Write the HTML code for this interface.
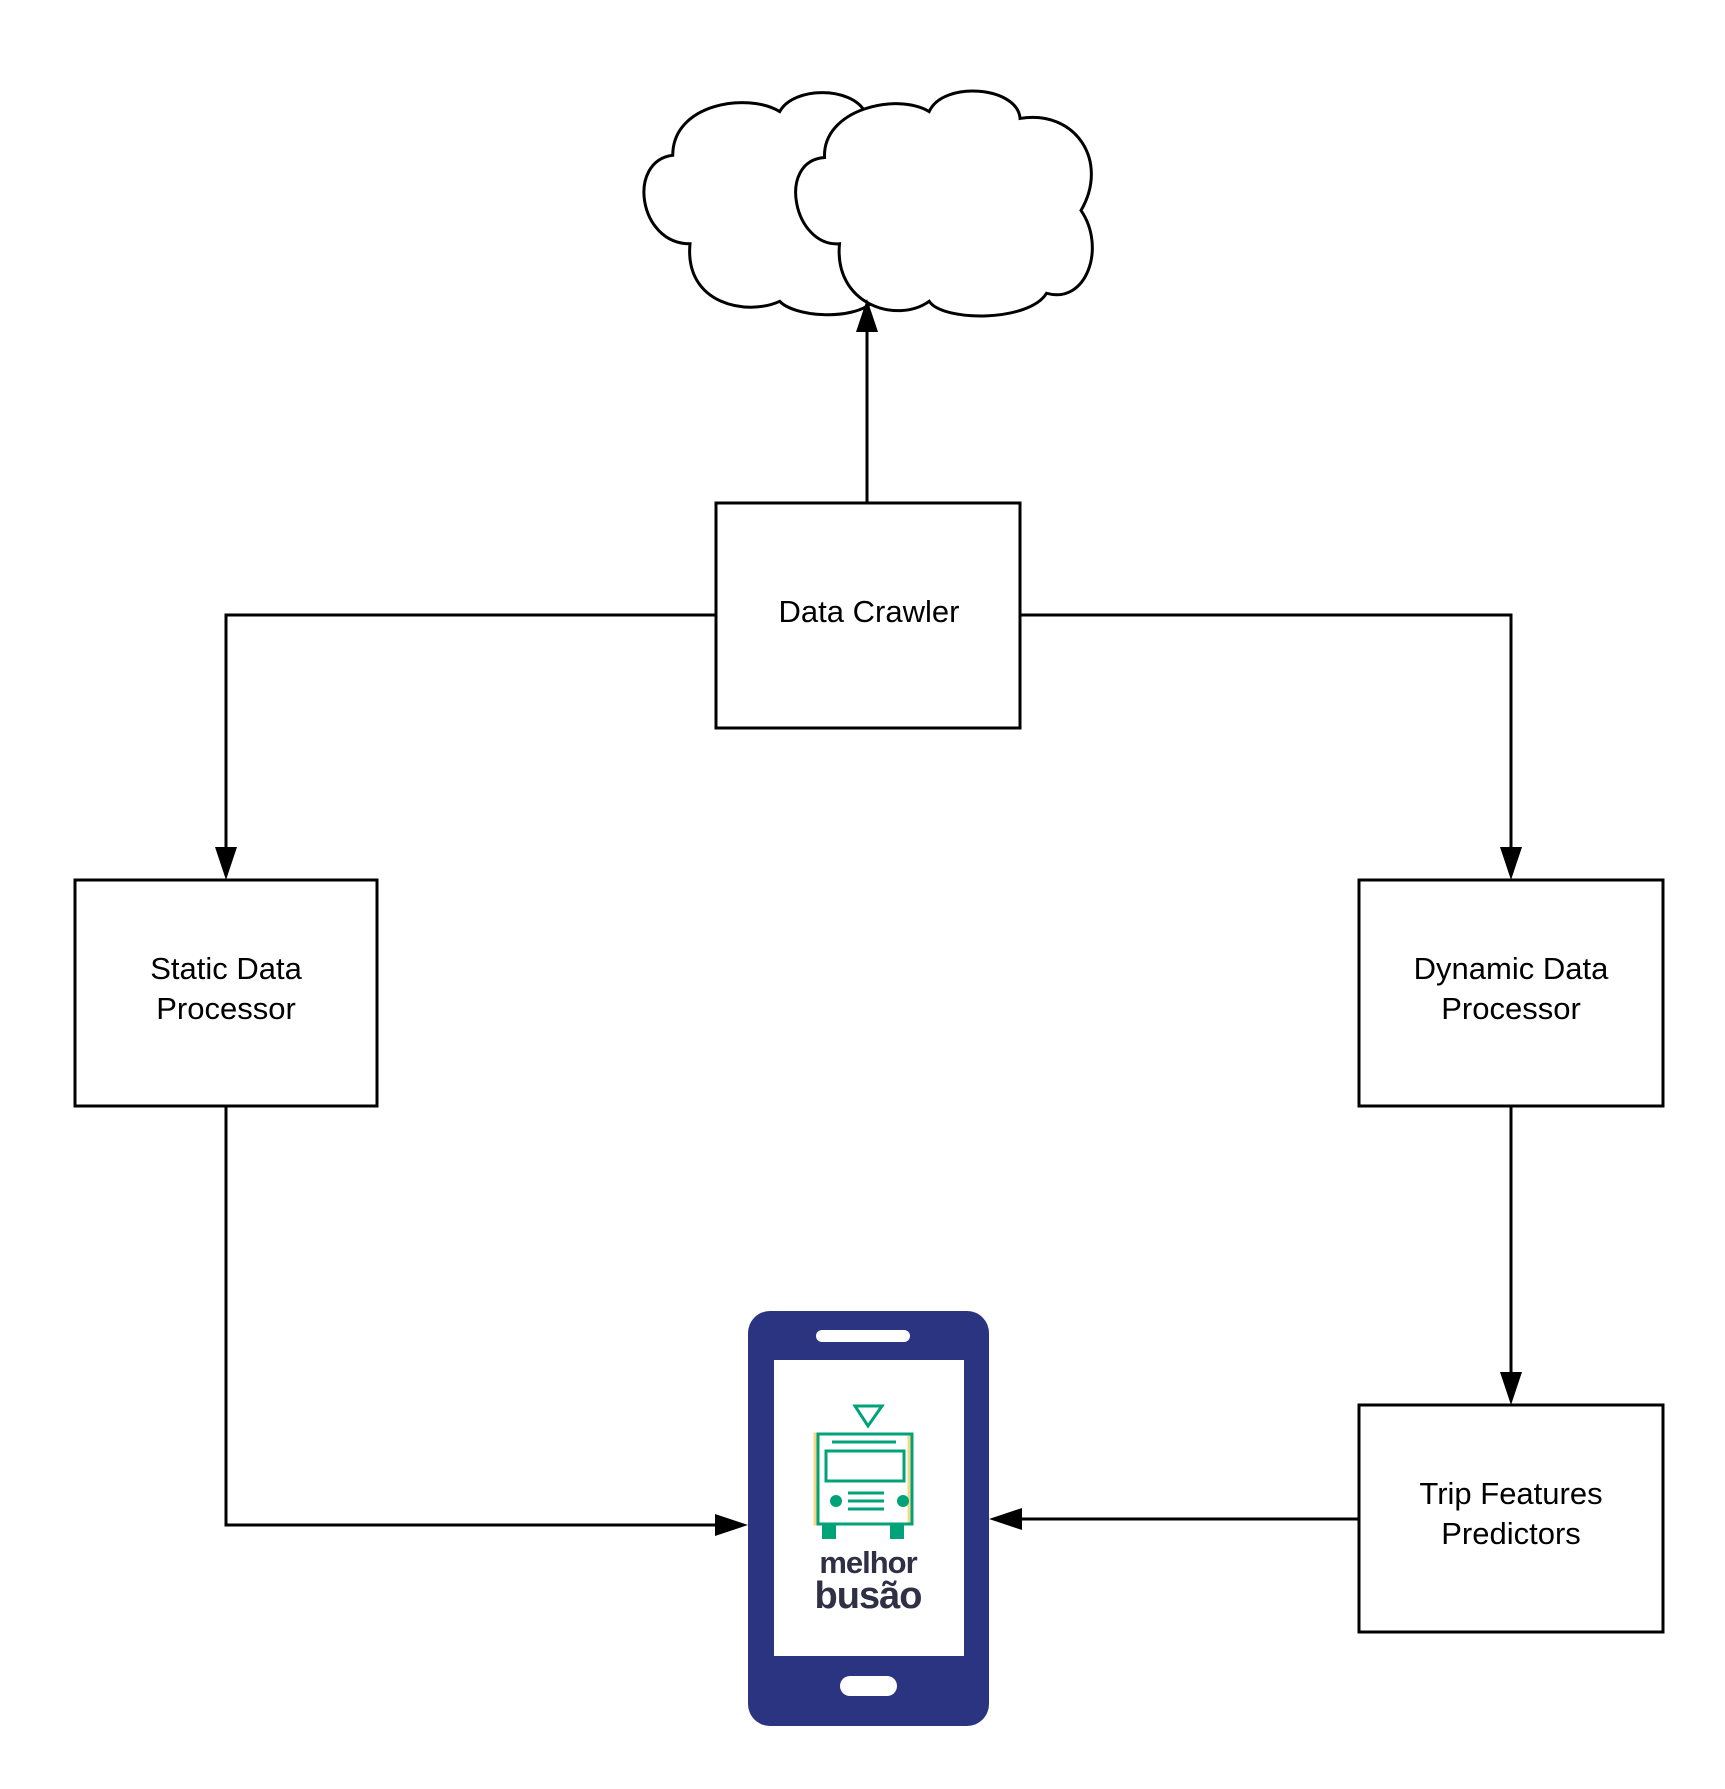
<!DOCTYPE html>
<html><head><meta charset="utf-8"><style>
html,body{margin:0;padding:0;background:#fff;}
svg{display:block;}
text{font-family:"Liberation Sans",sans-serif;}
</style></head><body>
<svg width="1725" height="1789" viewBox="0 0 1725 1789" xmlns="http://www.w3.org/2000/svg">
<!-- clouds -->
<g transform="scale(1.15)" fill="#fff" stroke="#000" stroke-width="2.6">
<path d="M585,135 C585,90 650,80 678,97 C690,75 740,75 752,97 C800,110 800,250 760,262 C740,280 690,275 678,262 C650,275 595,265 600,212 C555,212 545,140 585,135 Z"/>
<path d="M717,137 C715,95 780,80 808,97 C820,70 885,75 887,103 C935,95 965,140 940,183 C962,215 945,265 910,255 C895,280 820,280 808,262 C780,282 725,265 730,212 C690,215 675,140 717,137 Z"/>
</g>

<g stroke="#000" stroke-width="3" fill="none">
<line x1="867" y1="503" x2="867" y2="322"/>
<polyline points="716,615 226,615 226,858"/>
<polyline points="1020,615 1511,615 1511,858"/>
<polyline points="226,1106 226,1525 726,1525"/>
<line x1="1359" y1="1519" x2="1011" y2="1519"/>
<line x1="1511" y1="1106" x2="1511" y2="1383"/>
<rect x="716" y="503" width="304" height="225" fill="#fff"/>
<rect x="75" y="880" width="302" height="226" fill="#fff"/>
<rect x="1359" y="880" width="304" height="226" fill="#fff"/>
<rect x="1359" y="1405" width="304" height="227" fill="#fff"/>
</g>
<g fill="#000">
<polygon points="867,299 856,332 878,332"/>
<polygon points="226,880 215,847 237,847"/>
<polygon points="1511,880 1500,847 1522,847"/>
<polygon points="748,1525 715,1514 715,1536"/>
<polygon points="989,1519 1022,1508 1022,1530"/>
<polygon points="1511,1405 1500,1372 1522,1372"/>
</g>
<g font-size="31" text-anchor="middle" fill="#000">
<text x="869" y="622">Data Crawler</text>
<text x="226" y="979">Static Data</text>
<text x="226" y="1019">Processor</text>
<text x="1511" y="979">Dynamic Data</text>
<text x="1511" y="1019">Processor</text>
<text x="1511" y="1504">Trip Features</text>
<text x="1511" y="1544">Predictors</text>
</g>
<!-- phone -->
<rect x="748" y="1311" width="241" height="415" rx="22" fill="#2b3481"/>
<rect x="774" y="1360" width="190" height="296" fill="#fff"/>
<rect x="816" y="1330" width="94" height="12" rx="6" fill="#fff"/>
<rect x="840" y="1676" width="57" height="20" rx="10" fill="#fff"/>
<!-- logo -->
<g fill="none" stroke-width="3">
<polygon points="855,1406 882,1406 868,1426" stroke="#00a27a"/>
<rect x="815" y="1434" width="94" height="90" stroke="#f6d88a"/>
<rect x="818" y="1434" width="94" height="90" stroke="#00a27a"/>
<rect x="826" y="1451" width="78" height="30" stroke="#00a27a"/>
<line x1="832" y1="1442" x2="896" y2="1442" stroke="#00a27a"/>
<line x1="848" y1="1493" x2="884" y2="1493" stroke="#00a27a"/>
<line x1="848" y1="1501" x2="884" y2="1501" stroke="#00a27a"/>
<line x1="848" y1="1509" x2="884" y2="1509" stroke="#00a27a"/>
</g>
<circle cx="836" cy="1501" r="6" fill="#00a27a"/>
<circle cx="903" cy="1501" r="6" fill="#00a27a"/>
<rect x="822" y="1524" width="14" height="15" fill="#00a27a"/>
<rect x="890" y="1524" width="14" height="15" fill="#00a27a"/>
<text x="868" y="1573" font-size="31" font-weight="bold" text-anchor="middle" fill="#2f2f45" letter-spacing="-1">melhor</text>
<text x="868" y="1608" font-size="38" font-weight="bold" text-anchor="middle" fill="#2f2f45" letter-spacing="-1">busão</text>
</svg>
</body></html>
